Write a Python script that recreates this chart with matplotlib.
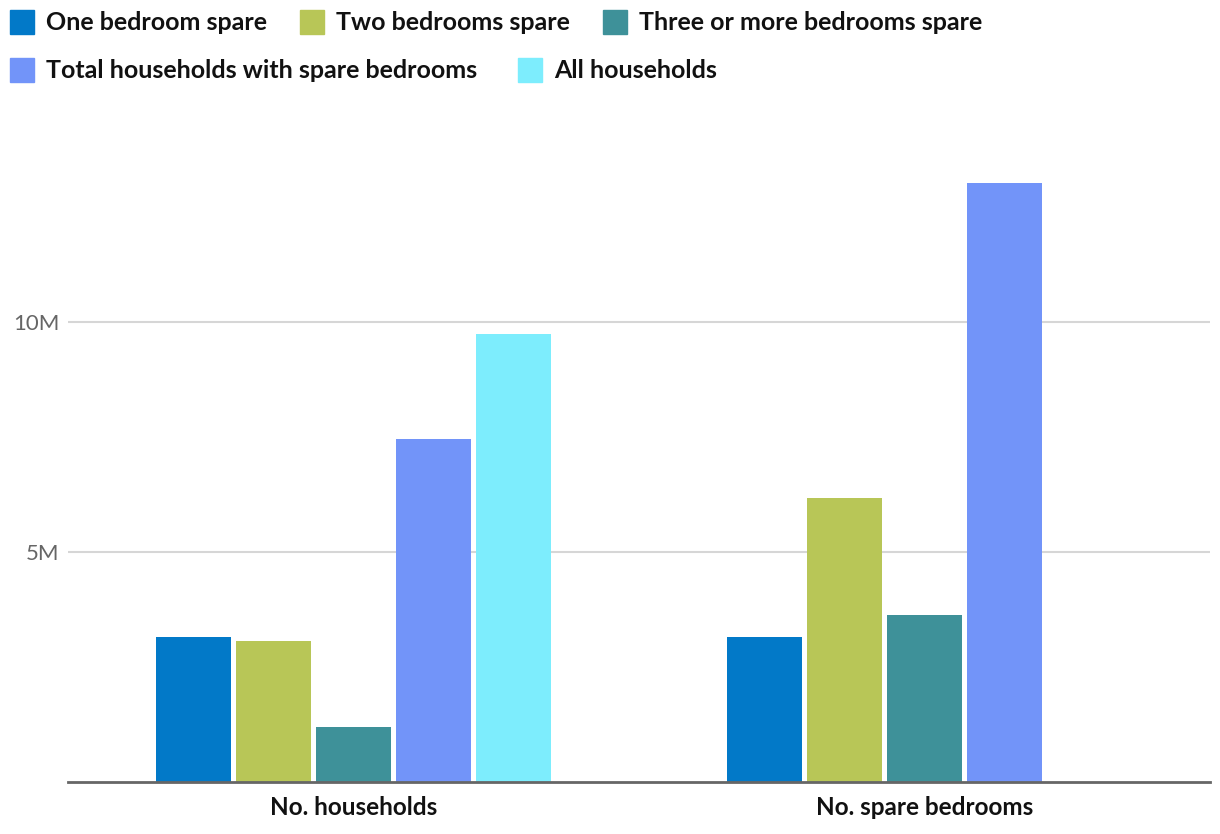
import numpy as np
import matplotlib
matplotlib.use("Agg")
import matplotlib.pyplot as plt
from matplotlib.patches import Rectangle

categories = ["No. households", "No. spare bedrooms"]
series = ["One bedroom spare", "Two bedrooms spare", "Three or more bedrooms spare",
          "Total households with spare bedrooms", "All households"]
one_bedroom = [3.15e6, 3.15e6]
two_bedrooms = [3.07e6, 6.17e6]
three_plus = [1.20e6, 3.63e6]
total_spare = [7.46e6, 13.02e6]
all_households = [9.74e6, np.nan]
values = [one_bedroom, two_bedrooms, three_plus, total_spare, all_households]
colors = ["#0279C8", "#B8C657", "#3E9199", "#7294F9", "#7DEDFD"]
yticks = [5e6, 10e6]
ytick_labels = ["5M", "10M"]

plt.rcParams['font.family'] = ['Lato', 'DejaVu Sans']

W, H = 1220, 834
fig = plt.figure(figsize=(W / 100, H / 100), dpi=100)
ax = fig.add_axes([68 / W, 1 - 782 / H, (1210 - 68) / W, (782 - 138) / H])

x = np.arange(len(categories))
slot = 80 / 570
bw = 75 / 570
n = len(series)
for i, (vals, c) in enumerate(zip(values, colors)):
    offs = (i - (n - 1) / 2) * slot
    ax.bar(x + offs, vals, width=bw, color=c, label=series[i], zorder=3)

ax.set_xlim(-0.5, 1.5)
ax.set_ylim(0, 14e6)
ax.set_yticks(yticks)
ax.set_yticklabels(ytick_labels, color="#666666", fontsize=16)
ax.grid(axis="y", color="#d6d6d6", linewidth=1.5, zorder=0)
ax.tick_params(axis="y", length=0, pad=6)
ax.set_xticks(x)
ax.set_xticklabels(categories, fontsize=17.5, fontweight="bold", color="#111111")
ax.tick_params(axis="x", length=0, pad=10)
for s in ["top", "right", "left"]:
    ax.spines[s].set_visible(False)
ax.spines["bottom"].set_color("#666666")
ax.spines["bottom"].set_linewidth(2)
ax.spines["bottom"].set_zorder(4)

# legend laid out like the reference (two wrapped rows)
legend_pos = [(10, 22), (300, 22), (603, 22), (10, 70), (518, 70)]
sq = 24
for (px, py), lab, c in zip(legend_pos, series, colors):
    fig.patches.append(Rectangle((px / W, 1 - (py + sq / 2) / H), sq / W, sq / H,
                                 transform=fig.transFigure, color=c, figure=fig))
    fig.text((px + 36) / W, 1 - py / H, lab, fontsize=18, fontweight="bold",
             color="#111111", va="center", ha="left")

fig.savefig("out.png", dpi=100, facecolor="white")
